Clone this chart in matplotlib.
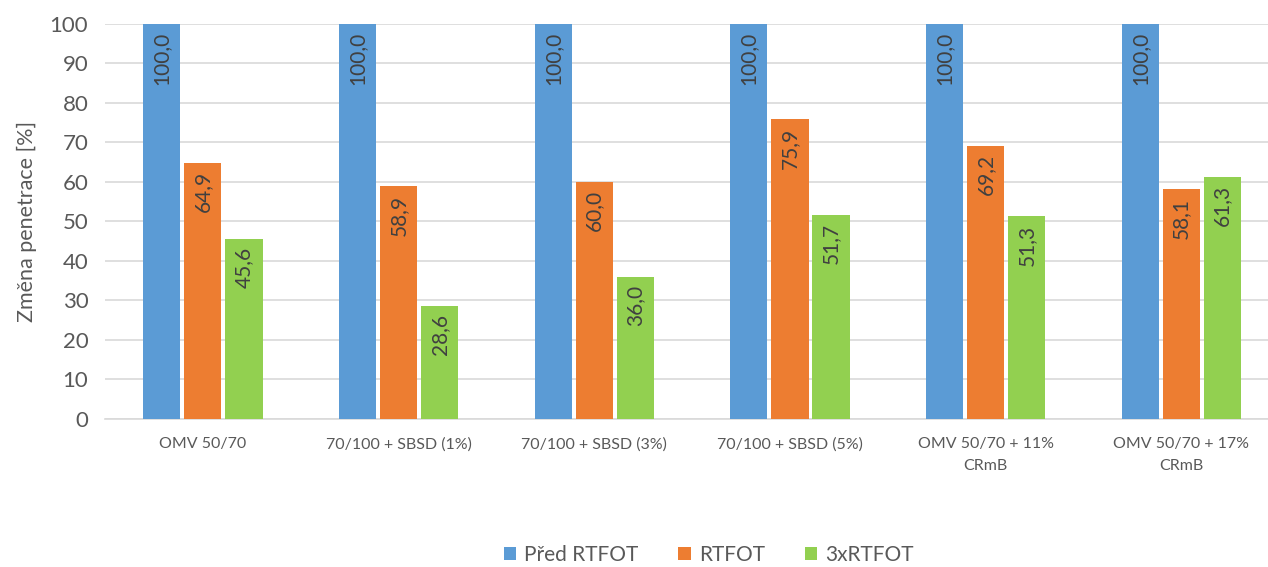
import numpy as np
import matplotlib.pyplot as plt

categories = ['OMV 50/70', '70/100 + SBSD (1%)', '70/100 + SBSD (3%)',
              '70/100 + SBSD (5%)', 'OMV 50/70 + 11%\nCRmB', 'OMV 50/70 + 17%\nCRmB']
pred_rtfot = [100.0, 100.0, 100.0, 100.0, 100.0, 100.0]
rtfot = [64.9, 58.9, 60.0, 75.9, 69.2, 58.1]
rtfot3x = [45.6, 28.6, 36.0, 51.7, 51.3, 61.3]
series_names = ['Před RTFOT', 'RTFOT', '3xRTFOT']
colors = ['#5b9bd5', '#ed7d31', '#92d050']

plt.rcParams['font.family'] = ['Lato', 'DejaVu Sans']

fig = plt.figure(figsize=(12.68, 5.67), dpi=100)
# the original plot area runs slightly past the right edge of the image
ax = fig.add_axes([0.0828, 0.261, 0.926, 0.697])

x = np.arange(len(categories))
width = 0.19
step = 0.21
for i, (vals, name, col) in enumerate(zip([pred_rtfot, rtfot, rtfot3x], series_names, colors)):
    pos = x + (i - 1) * step
    ax.bar(pos, vals, width, color=col, label=name, zorder=3)
    for px, v in zip(pos, vals):
        ax.annotate(f'{v:.1f}'.replace('.', ','), (px, v), xytext=(0, -6),
                    textcoords='offset points', rotation=90, ha='center', va='top',
                    fontsize=15, color='#404040', zorder=4)

ax.set_xlim(-0.5, len(categories) - 0.5)
ax.set_ylim(0, 100)
ax.set_yticks(range(0, 101, 10))
ax.set_xticks(x)
ax.set_xticklabels(categories, fontsize=11.5, color='#595959', linespacing=1.75)
ax.tick_params(axis='y', labelsize=16, labelcolor='#595959', length=0, pad=12)
ax.tick_params(axis='x', length=0, pad=13)
ax.grid(axis='y', color='#d9d9d9', linewidth=1.2, zorder=0)
for s in ['top', 'right', 'left']:
    ax.spines[s].set_visible(False)
ax.spines['bottom'].set_color('#d9d9d9')
ax.spines['bottom'].set_linewidth(1.2)
ax.set_ylabel('Změna penetrace [%]', fontsize=15.5, color='#595959', labelpad=9)

fig.legend(loc='center', bbox_to_anchor=(0.559, 0.022), ncol=3, frameon=False,
           fontsize=15, labelcolor='#595959', handlelength=0.6, handleheight=0.6,
           handletextpad=0.4, columnspacing=1.9)

fig.savefig('out.png', dpi=100)
